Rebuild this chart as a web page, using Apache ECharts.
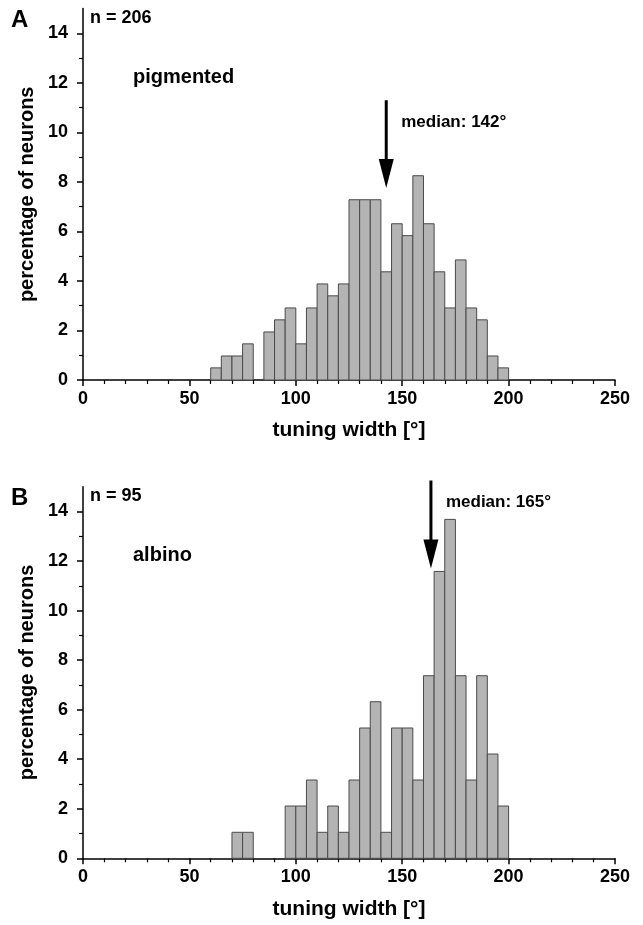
<!DOCTYPE html>
<html>
<head>
<meta charset="utf-8">
<script src="https://cdn.jsdelivr.net/npm/echarts@6/dist/echarts.min.js"></script>
<style>
html,body{margin:0;padding:0;background:#fff;}
#chart{width:643px;height:925px;}
</style>
</head>
<body>
<div id="chart"></div>
<script>
// ---- data ----
var binWidth = 5;
var binStartsA = [60,65,70,75,80,85,90,95,100,105,110,115,120,125,130,135,140,145,150,155,160,165,170,175,180,185,190,195];
var valuesA   = [0.49,0.97,0.97,1.46,0,1.94,2.43,2.91,1.46,2.91,3.88,3.40,3.88,7.28,7.28,7.28,4.37,6.31,5.83,8.25,6.31,4.37,2.91,4.85,2.91,2.43,0.97,0.49];
var binStartsB = [70,75,80,85,90,95,100,105,110,115,120,125,130,135,140,145,150,155,160,165,170,175,180,185,190,195];
var valuesB   = [1.05,1.05,0,0,0,2.11,2.11,3.16,1.05,2.11,1.05,3.16,5.26,6.32,1.05,5.26,5.26,3.16,7.37,11.58,13.68,7.37,3.16,7.37,4.21,2.11];
var xTicksMajor = [0,50,100,150,200,250];
var yTicksMajor = [0,2,4,6,8,10,12,14];
var yTicksMinor = [1,3,5,7,9,11,13];
// arrows: [x position, arrow top, arrow tip] in data units
var medianA = {x: 142.5, top: 11.3, tip: 7.75, label: 'median: 142°'};
var medianB = {x: 163.5, top: 15.25, tip: 11.7, label: 'median: 165°'};
var panelA = {letter: 'A', n: 'n = 206', group: 'pigmented'};
var panelB = {letter: 'B', n: 'n = 95', group: 'albino'};

var FONT = 'Liberation Sans, Arial, Helvetica, sans-serif';
var chart = echarts.init(document.getElementById('chart'), null, {renderer: 'canvas'});

function barSeries(starts, vals, gi) {
  return {
    type: 'custom',
    xAxisIndex: gi, yAxisIndex: gi * 2,
    data: starts.map(function (s, i) { return [s, vals[i]]; }),
    renderItem: function (params, api) {
      var s = api.value(0), v = api.value(1);
      if (!v) return null;
      var p0 = api.coord([s, 0]);
      var p1 = api.coord([s + binWidth, v]);
      return {
        type: 'rect',
        shape: {x: p0[0], y: p1[1], width: p1[0] - p0[0], height: p0[1] - p1[1]},
        style: {fill: '#b4b4b4', stroke: '#4a4a4a', lineWidth: 1}
      };
    },
    clip: false, silent: true, z: 2
  };
}

function arrowSeries(m, gi) {
  return {
    type: 'custom',
    xAxisIndex: gi, yAxisIndex: gi * 2,
    data: [[m.x, m.top, m.tip]],
    renderItem: function (params, api) {
      var top = api.coord([api.value(0), api.value(1)]);
      var tip = api.coord([api.value(0), api.value(2)]);
      var headH = 29, headW = 15;
      return {
        type: 'group',
        children: [
          {type: 'line', shape: {x1: top[0], y1: top[1], x2: tip[0], y2: tip[1] - headH + 2},
           style: {stroke: '#000', lineWidth: 3}},
          {type: 'polygon', shape: {points: [[tip[0] - headW / 2, tip[1] - headH], [tip[0] + headW / 2, tip[1] - headH], [tip[0], tip[1]]]},
           style: {fill: '#000'}},
          {type: 'text', x: top[0] + 15, y: top[1] + 22,
           style: {text: m.label, font: 'bold 17px ' + FONT, fill: '#000', verticalAlign: 'middle', align: 'left'}}
        ]
      };
    },
    clip: false, silent: true, z: 5
  };
}

var grids = [
  {left: 83, right: 28, top: 8.6, height: 371.4},
  {left: 83, right: 28, top: 486.7, height: 371.6}
];

function xAx(gi) {
  return {
    gridIndex: gi, type: 'value', min: 0, max: 250, interval: 50,
    name: 'tuning width [°]', nameLocation: 'middle', nameGap: 40,
    nameTextStyle: {fontFamily: FONT, fontWeight: 'bold', fontSize: 21, color: '#000'},
    axisLine: {show: true, lineStyle: {color: '#000', width: 1.5}},
    axisTick: {show: true, inside: false, length: 6, lineStyle: {color: '#000', width: 1.5}},
    minorTick: {show: true, splitNumber: 5, length: 4, lineStyle: {color: '#000', width: 1.2}},
    axisLabel: {fontFamily: FONT, fontWeight: 'bold', fontSize: 18, color: '#000', margin: 10, showMaxLabel: true},
    splitLine: {show: false}, minorSplitLine: {show: false}
  };
}
function yAxMajor(gi) {
  return {
    gridIndex: gi, type: 'value', min: 0, max: 15, position: 'left',
    name: 'percentage of neurons', nameLocation: 'middle', nameGap: 45, nameRotate: 90,
    nameTextStyle: {fontFamily: FONT, fontWeight: 'bold', fontSize: 20, color: '#000'},
    axisLine: {show: true, lineStyle: {color: '#000', width: 1.5}},
    axisTick: {show: true, inside: false, length: 6, customValues: yTicksMajor, lineStyle: {color: '#000', width: 1.5}},
    axisLabel: {fontFamily: FONT, fontWeight: 'bold', fontSize: 18, color: '#000', margin: 15, customValues: yTicksMajor},
    splitLine: {show: false}
  };
}
function yAxMinor(gi) {
  return {
    gridIndex: gi, type: 'value', min: 0, max: 15, position: 'left',
    axisLine: {show: false},
    axisTick: {show: true, inside: false, length: 4, customValues: yTicksMinor, lineStyle: {color: '#000', width: 1.2}},
    axisLabel: {show: false},
    splitLine: {show: false}
  };
}

function panelTexts(p, baseTop) {
  return [
    {type: 'text', left: 11, top: baseTop + 1, style: {text: p.letter, font: 'bold 24px ' + FONT, fill: '#000'}},
    {type: 'text', left: 90, top: baseTop + 2, style: {text: p.n, font: 'bold 18px ' + FONT, fill: '#000'}},
    {type: 'text', left: 133, top: baseTop + 60, style: {text: p.group, font: 'bold 20px ' + FONT, fill: '#000'}}
  ];
}

var option = {
  backgroundColor: '#fff',
  animation: false,
  grid: grids,
  xAxis: [xAx(0), xAx(1)],
  yAxis: [yAxMajor(0), yAxMinor(0), yAxMajor(1), yAxMinor(1)],
  series: [
    barSeries(binStartsA, valuesA, 0),
    barSeries(binStartsB, valuesB, 1),
    arrowSeries(medianA, 0),
    arrowSeries(medianB, 1)
  ],
  graphic: panelTexts(panelA, 7).concat(panelTexts(panelB, 485))
};
chart.setOption(option);
</script>
</body>
</html>
